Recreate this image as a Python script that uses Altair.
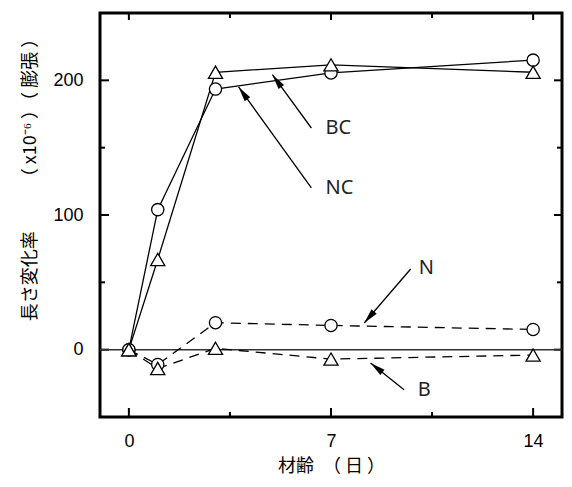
import math
import altair as alt
import pandas as pd

# ---- data ----
days = [0, 1, 3, 7, 14]
nc_vals = [0, 104, 193.5, 205.5, 215]     # NC (circles, solid)
bc_vals = [0, 67, 206, 211.5, 206]        # BC (triangles, solid)
n_vals = [0, -11, 20, 18, 15]             # N  (circles, dashed)
b_vals = [0, -14, 1, -7, -4]              # B  (triangles, dashed)

label_names = ["BC", "NC", "N", "B"]
label_x = [6.81, 6.81, 10.04, 10.0]
label_y = [164.9, 120.3, 60.9, -29.7]
arrow_x0 = [6.32, 6.32, 9.76, 9.53]
arrow_y0 = [164.6, 120.1, 59.9, -29.7]
arrow_x1 = [4.97, 3.80, 8.15, 8.37]
arrow_y1 = [204.2, 195.1, 19.8, -9.9]

x_domain = [-1, 15]
y_domain = [-50, 250]
x_major = [0, 7, 14]
x_minor = [3.5, 10.5]
y_major = [0, 100, 200]
y_minor = [50, 150]

x_title = "材齢　（ 日 ）"
y_title = "長さ変化率　　　（  x10⁻⁶  ）（ 膨張 ）"

W, H = 462, 404

# ---- build tables ----
rows = []
for name, vals, marker, dash in [
    ("NC", nc_vals, "circle", "solid"),
    ("BC", bc_vals, "triangle", "solid"),
    ("N", n_vals, "circle", "dashed"),
    ("B", b_vals, "triangle", "dashed"),
]:
    for d, v in zip(days, vals):
        rows.append({"series": name, "day": d, "value": v, "marker": marker, "dash": dash})
df = pd.DataFrame(rows)

kx = W / (x_domain[1] - x_domain[0])
ky = H / (y_domain[1] - y_domain[0])
angles = []
for x0, y0, x1, y1 in zip(arrow_x0, arrow_y0, arrow_x1, arrow_y1):
    dx = (x1 - x0) * kx
    dy = -(y1 - y0) * ky
    angles.append(math.degrees(math.atan2(dx, -dy)) % 360)
arrows = pd.DataFrame({"x0": arrow_x0, "y0": arrow_y0, "x1": arrow_x1, "y1": arrow_y1, "ang": angles})
labels = pd.DataFrame({"name": label_names, "x": label_x, "y": label_y})

xs = alt.Scale(domain=x_domain, nice=False, zero=False)
ys = alt.Scale(domain=y_domain, nice=False, zero=False)

xaxis = alt.Axis(values=x_major, title=x_title, labelFont="Liberation Sans", labelFontSize=18,
                 labelColor="black", labelPadding=15, tickSize=0, ticks=False, domain=False, grid=False,
                 titleFont="Noto Sans CJK JP", titleFontSize=18, titleFontWeight="normal",
                 titleColor="black", titleY=49, titleBaseline="middle")
yaxis = alt.Axis(values=y_major, title=y_title, labelFont="Liberation Sans", labelFontSize=18,
                 labelColor="black", labelPadding=17, tickSize=0, ticks=False, domain=False, grid=False,
                 titleFont="Noto Sans CJK JP", titleFontSize=18, titleFontWeight="normal",
                 titleColor="black", titleX=-70, titleY=162, titleAngle=-90,
                 titleBaseline="middle", titleAlign="center")


def X(f):
    return alt.X(f, type="quantitative", scale=xs, axis=xaxis)


def Y(f):
    return alt.Y(f, type="quantitative", scale=ys, axis=yaxis)


def tick_layers(vals, length, side):
    t = alt.Chart(pd.DataFrame({"t": vals})).mark_rule(color="black", strokeWidth=2)
    if side == "bottom":
        return t.encode(x=X("t"), y=alt.value(H), y2=alt.value(H - length))
    if side == "top":
        return t.encode(x=X("t"), y=alt.value(0), y2=alt.value(length))
    if side == "left":
        return t.encode(y=Y("t"), x=alt.value(0), x2=alt.value(length))
    return t.encode(y=Y("t"), x=alt.value(W), x2=alt.value(W - length))


ticks = [
    tick_layers(x_major, 9, "bottom"), tick_layers(x_minor, 5, "bottom"),
    tick_layers(x_major, 7, "top"), tick_layers(x_minor, 5, "top"),
    tick_layers(y_major, 9, "left"), tick_layers(y_minor, 5, "left"),
    tick_layers(y_major, 8, "right"), tick_layers(y_minor, 5, "right"),
]

zero = alt.Chart(pd.DataFrame({"v": [0]})).mark_rule(color="#333", strokeWidth=1.5).encode(y=Y("v"))

base = alt.Chart(df)
solid = base.transform_filter(alt.datum.dash == "solid").mark_line(
    color="black", strokeWidth=1.3).encode(x=X("day"), y=Y("value"), detail="series:N")
dashed = base.transform_filter(alt.datum.dash == "dashed").mark_line(
    color="black", strokeWidth=1.3, strokeDash=[10, 7]).encode(x=X("day"), y=Y("value"), detail="series:N")

circles = base.transform_filter(alt.datum.marker == "circle").mark_point(
    shape="circle", size=150, filled=True, fill="white", stroke="black", strokeWidth=1.3, opacity=1
).encode(x=X("day"), y=Y("value"))
triangles = base.transform_filter(alt.datum.marker == "triangle").mark_point(
    shape="triangle-up", size=200, filled=True, fill="white", stroke="black", strokeWidth=1.3, opacity=1
).encode(x=X("day"), y=Y("value"))

arrow_lines = alt.Chart(arrows).mark_rule(color="black", strokeWidth=1.3).encode(
    x=X("x0"), y=Y("y0"), x2="x1", y2="y1")
arrow_heads = alt.Chart(arrows).mark_point(
    shape="M0,0L0.45,2L-0.45,2Z", size=230, filled=True, color="black", opacity=1, strokeWidth=0
).encode(x=X("x1"), y=Y("y1"), angle=alt.Angle("ang:Q", scale=None))

texts = alt.Chart(labels).mark_text(
    align="left", baseline="middle", font="Noto Sans", fontSize=20, color="#222"
).encode(x=X("x"), y=Y("y"), text="name:N")

chart = alt.layer(
    *ticks, zero, solid, dashed, arrow_lines, arrow_heads, circles, triangles, texts
).properties(
    width=W, height=H,
    autosize=alt.AutoSizeParams(type="none"),
    padding={"left": 92, "top": 5, "right": 2, "bottom": 60},
).configure_view(stroke="black", strokeWidth=3)

chart.save("out.html", embed_options={"renderer": "svg", "actions": False})
